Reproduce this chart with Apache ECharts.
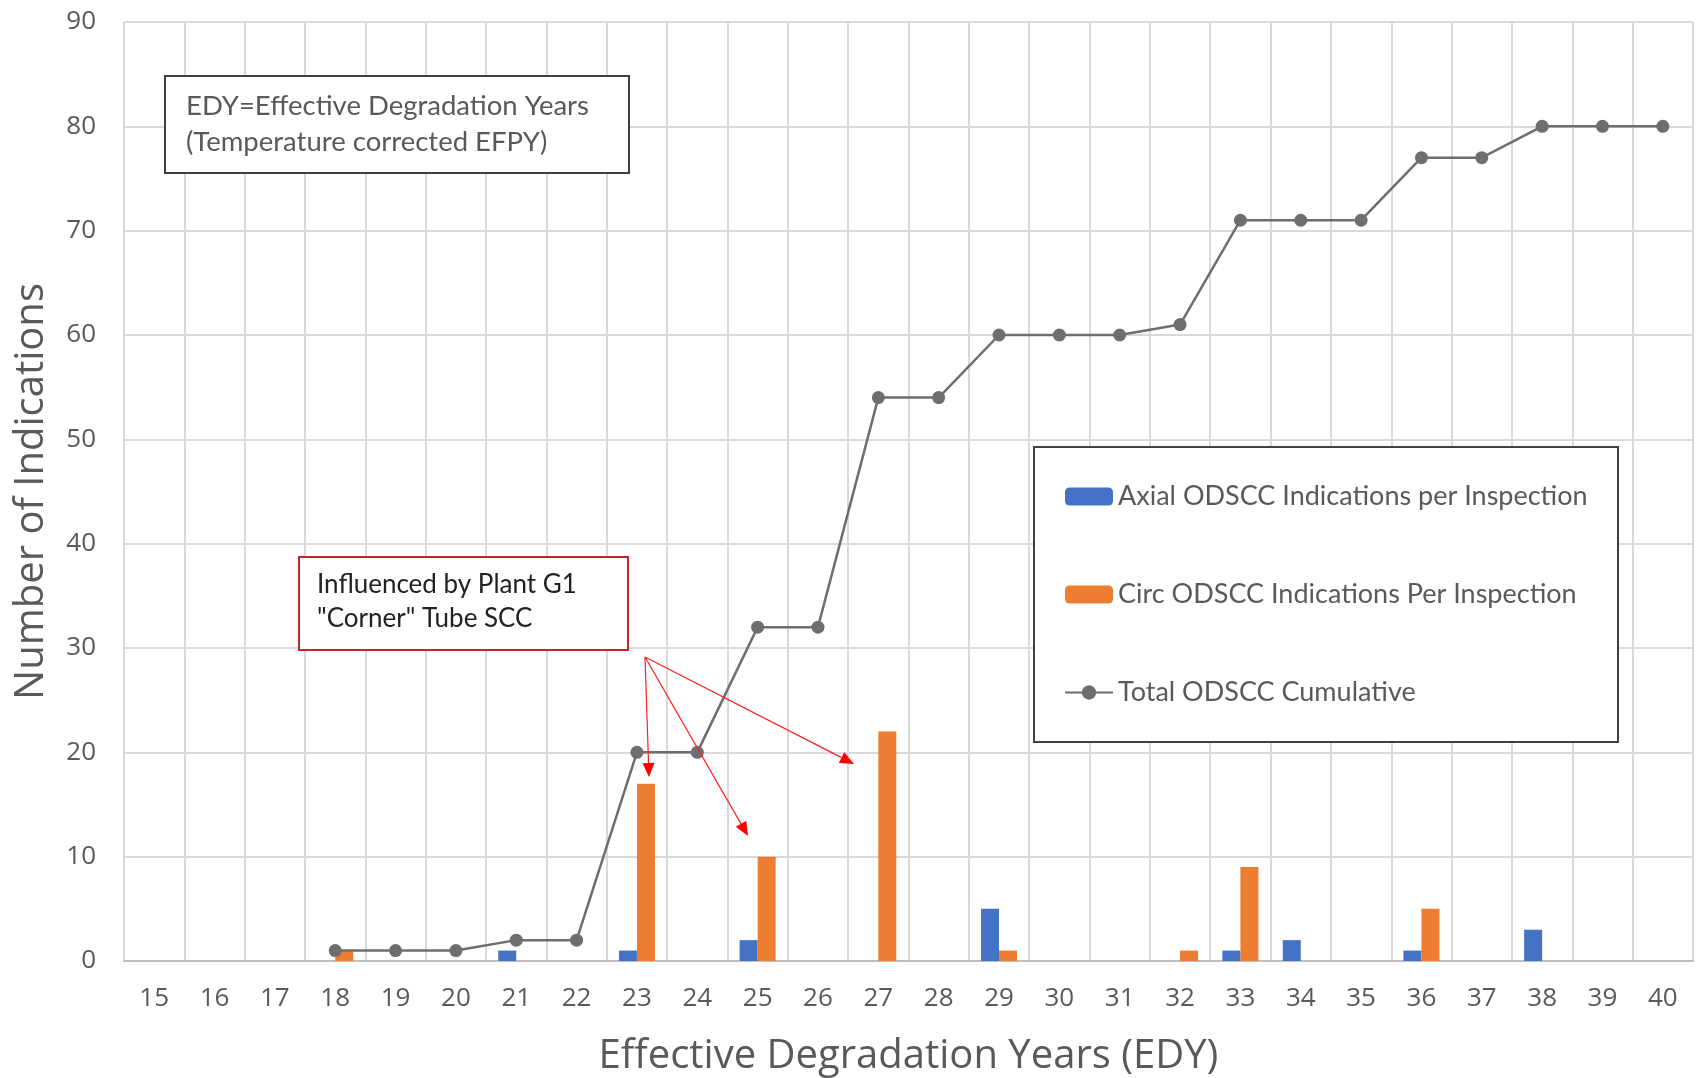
<!DOCTYPE html>
<html>
<head>
<meta charset="utf-8">
<script src="https://cdn.jsdelivr.net/npm/echarts@6/dist/echarts.min.js"></script>
<style>
  html, body { margin: 0; padding: 0; background: #fff; }
  #main { width: 1696px; height: 1078px; }
</style>
</head>
<body>
<div id="main"></div>
<script>
// categories (EDY)
var years = ['15','16','17','18','19','20','21','22','23','24','25','26','27','28','29','30','31','32','33','34','35','36','37','38','39','40'];
// per inspection counts
var axial = [0,0,0,0,0,0,1,0,1,0,2,0,0,0,5,0,0,0,1,2,0,1,0,3,0,0];
var circ  = [0,0,0,1,0,0,0,0,17,0,10,0,22,0,1,0,0,1,9,0,0,5,0,0,0,0];
// cumulative total
var total = [null,null,null,1,1,1,2,2,20,20,32,32,54,54,60,60,60,61,71,71,71,77,77,80,80,80];

var font = 'Lato';
var axisFont = 'Open Sans';
var chart = echarts.init(document.getElementById('main'));

function arrow(x1, y1, x2, y2) {
  var ang = Math.atan2(y2 - y1, x2 - x1);
  var len = 14, wid = 6;
  var bx = x2 - len * Math.cos(ang), by = y2 - len * Math.sin(ang);
  var px = -Math.sin(ang) * wid, py = Math.cos(ang) * wid;
  return [
    { type: 'line', z: 20, shape: { x1: x1, y1: y1, x2: bx, y2: by }, style: { stroke: '#ff2020', lineWidth: 1.2 } },
    { type: 'polygon', z: 20, shape: { points: [[x2, y2], [bx + px, by + py], [bx - px, by - py]] }, style: { fill: '#ff0000' } }
  ];
}

var graphics = [
  // EDY note
  { type: 'rect', z: 20, shape: { x: 165, y: 76, width: 464, height: 97 }, style: { fill: '#fff', stroke: '#404040', lineWidth: 2 } },
  { type: 'text', z: 21, x: 186, y: 106, style: { text: 'EDY=Effective Degradation Years', font: '27.5px ' + font, fill: '#595959', verticalAlign: 'middle' } },
  { type: 'text', z: 21, x: 186, y: 142, style: { text: '(Temperature corrected EFPY)', font: '27.5px ' + font, fill: '#595959', verticalAlign: 'middle' } },
  // red callout
  { type: 'rect', z: 20, shape: { x: 299, y: 557, width: 329, height: 93 }, style: { fill: '#fff', stroke: '#c8232c', lineWidth: 2 } },
  { type: 'text', z: 21, x: 317, y: 585, style: { text: 'Influenced by Plant G1', font: '26px ' + font, fill: '#222', verticalAlign: 'middle' } },
  { type: 'text', z: 21, x: 317, y: 619, style: { text: '"Corner" Tube SCC', font: '26px ' + font, fill: '#222', verticalAlign: 'middle' } },
  // legend frame
  { type: 'rect', z: 3, shape: { x: 1034, y: 447, width: 584, height: 295 }, style: { fill: '#fff', stroke: '#404040', lineWidth: 2 } }
].concat(arrow(645, 657, 649, 777), arrow(645, 657, 748, 836), arrow(645, 657, 854, 764));

var option = {
  backgroundColor: '#ffffff',
  animation: false,
  textStyle: { fontFamily: axisFont },
  grid: { left: 124, right: 3, top: 22, bottom: 117, outerBoundsMode: 'none' },
  legend: {
    orient: 'vertical',
    left: 1059,
    top: 478,
    itemWidth: 48,
    itemHeight: 18,
    itemGap: 71,
    z: 5,
    textStyle: { fontSize: 27, color: '#595959', fontFamily: font },
    data: ['Axial ODSCC Indications per Inspection', 'Circ ODSCC Indications Per Inspection', 'Total ODSCC Cumulative']
  },
  xAxis: {
    type: 'category',
    data: years,
    name: 'Effective Degradation Years (EDY)',
    nameLocation: 'middle',
    nameGap: 76,
    nameTextStyle: { fontSize: 40, color: '#595959', fontFamily: axisFont },
    axisLine: { lineStyle: { color: '#bfbfbf', width: 2 } },
    axisTick: { show: false },
    axisLabel: { fontSize: 26, color: '#595959', margin: 25 },
    splitLine: { show: true, lineStyle: { color: '#d9d9d9', width: 2 } }
  },
  yAxis: {
    type: 'value',
    min: 0,
    max: 90,
    interval: 10,
    name: 'Number of Indications',
    nameLocation: 'middle',
    nameGap: 72,
    nameTextStyle: { fontSize: 40, color: '#595959', fontFamily: axisFont },
    axisLine: { show: false },
    axisTick: { show: false },
    axisLabel: { fontSize: 26, color: '#595959', margin: 28 },
    splitLine: { lineStyle: { color: '#d9d9d9', width: 2 } }
  },
  series: [
    {
      name: 'Axial ODSCC Indications per Inspection',
      type: 'bar',
      data: axial,
      barWidth: 18,
      barGap: '0%',
      itemStyle: { color: '#4472c4' }
    },
    {
      name: 'Circ ODSCC Indications Per Inspection',
      type: 'bar',
      data: circ,
      barWidth: 18,
      barGap: '0%',
      itemStyle: { color: '#ed7d31' }
    },
    {
      name: 'Total ODSCC Cumulative',
      type: 'line',
      data: total,
      symbol: 'circle',
      symbolSize: 13,
      itemStyle: { color: '#6e6e6e' },
      lineStyle: { color: '#6e6e6e', width: 2.5 },
      z: 3
    }
  ],
  graphic: graphics
};
chart.setOption(option);
</script>
</body>
</html>
